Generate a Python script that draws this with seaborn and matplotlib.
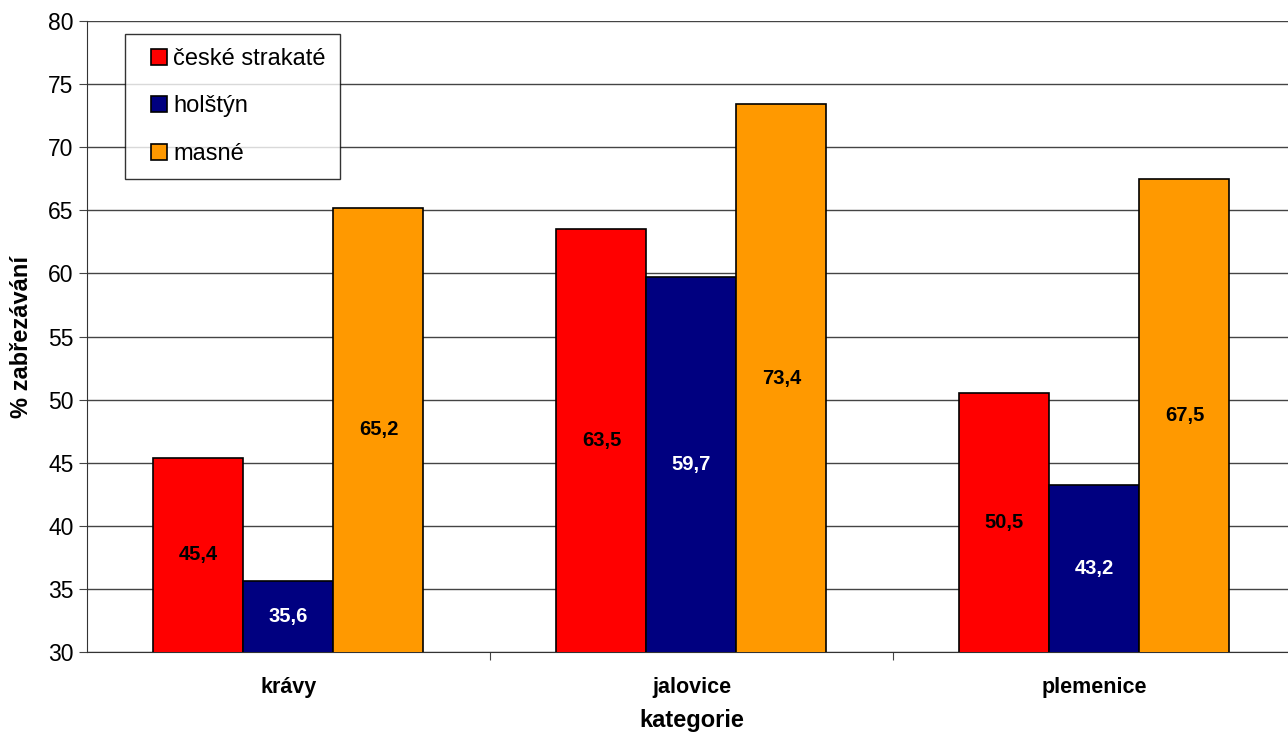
import numpy as np
import pandas as pd
import matplotlib
matplotlib.use("Agg")
import matplotlib.pyplot as plt
from matplotlib.lines import Line2D
import seaborn as sns

# data
categories = ["krávy", "jalovice", "plemenice"]
breeds = ["české strakaté", "holštýn", "masné"]
ceske = [45.4, 63.5, 50.5]
holstyn = [35.6, 59.7, 43.2]
masne = [65.2, 73.4, 67.5]
colors = ["#FF0000", "#000080", "#FF9900"]
label_colors = ["black", "white", "black"]

df = pd.DataFrame({
	"kategorie": categories * 3,
	"plemeno": [b for b in breeds for _ in categories],
	"hodnota": ceske + holstyn + masne,
})

sns.set_style("white")
plt.rcParams["font.family"] = ["Liberation Sans", "DejaVu Sans"]
plt.rcParams["text.color"] = "black"
plt.rcParams["axes.labelcolor"] = "black"
plt.rcParams["xtick.color"] = "black"
plt.rcParams["ytick.color"] = "black"

fig = plt.figure(figsize=(12.88, 7.35), dpi=100)
ax = fig.add_axes([0.0675, 0.1129, 0.9387, 0.8585])

sns.barplot(data=df, x="kategorie", y="hodnota", hue="plemeno",
			order=categories, hue_order=breeds, palette=colors, saturation=1,
			width=0.67, edgecolor="black", linewidth=1.2, ax=ax,
			errorbar=None, zorder=3, legend=False)

ax.set_ylim(30, 80)
ax.set_xlim(-0.5, 2.5)
ax.set_yticks(np.arange(30, 81, 5))
ax.yaxis.grid(True, color="#444444", linewidth=1, zorder=0)
ax.set_axisbelow(True)

# value labels centred in each bar
for cont, lc in zip(ax.containers, label_colors):
	for bar in cont:
		h = bar.get_height()
		ax.text(bar.get_x() + bar.get_width() / 2, (30 + h) / 2,
				f"{h:.1f}".replace(".", ","), ha="center", va="center",
				fontsize=14.5, fontweight="bold", color=lc, zorder=4)

# ticks between categories, labels at centres
ax.set_xticks([0.5, 1.5])
ax.set_xticklabels([])
ax.set_xticks([0, 1, 2], minor=True)
ax.set_xticklabels(categories, minor=True, fontsize=15.5, fontweight="bold")
ax.tick_params(axis="x", which="major", direction="out", length=6, color="#444444", bottom=True)
ax.tick_params(axis="x", which="minor", length=0, pad=18)
ax.tick_params(axis="y", direction="out", length=6, color="#444444", left=True, labelsize=16.5)

for s in ["top", "right"]:
	ax.spines[s].set_visible(False)
ax.spines["left"].set_color("#333333")
ax.spines["bottom"].set_color("#333333")

ax.set_xlabel("kategorie", fontsize=17, fontweight="bold", labelpad=8)
ax.set_ylabel("% zabřezávání", fontsize=17, fontweight="bold")
ax.yaxis.set_label_coords(-0.045, 0.5)

# legend with square markers
handles = [Line2D([], [], linestyle="none", marker="s", markersize=11.5,
				  markerfacecolor=c, markeredgecolor="black", markeredgewidth=1.2)
		   for c in colors]
leg = ax.legend(handles, breeds, loc="upper left", bbox_to_anchor=(0.0315, 0.98),
				fontsize=17, frameon=True, fancybox=False, edgecolor="black",
				handlelength=1.7, handletextpad=-0.25,
				labelspacing=1.08, borderpad=0.6, borderaxespad=0)
leg.get_frame().set_linewidth(1)
leg.set_zorder(5)

fig.savefig("out.png", dpi=100)
